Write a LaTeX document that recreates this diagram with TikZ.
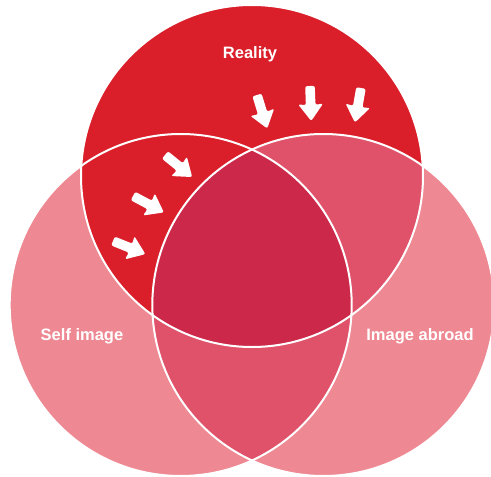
\documentclass[tikz,border=0pt]{standalone}
\usepackage{fontspec}
\setmainfont{Liberation Sans}
\definecolor{topred}{RGB}{218,30,42}
\definecolor{sidepink}{RGB}{238,136,146}
\definecolor{midred}{RGB}{224,82,106}
\definecolor{corered}{RGB}{204,40,74}
\tikzset{
  ring/.style={draw=white, line width=2pt},
  lbl/.style={text=white, font=\fontsize{16.5}{18}\selectfont\bfseries, inner sep=0pt},
  blockarrow/.pic={\fill[white, rounded corners=2pt]
    (0,-4.8) -- (19,-4.8) -- (18,-12.5) -- (35,0) -- (18,12.5) -- (19,4.8) -- (0,4.8) -- cycle;}
}
\begin{document}
\begin{tikzpicture}[x=1pt,y=-1pt]
\useasboundingbox (0,0) rectangle (491,477);
\fill[white] (0,0) rectangle (491,477);
\coordinate (T) at (252,176);
\coordinate (L) at (180.7,305);
\coordinate (R) at (323.3,305);
% side circles
\fill[sidepink] (L) circle[radius=171pt];
\fill[sidepink] (R) circle[radius=171pt];
\begin{scope}
  \clip (L) circle[radius=171pt];
  \fill[midred] (R) circle[radius=171pt];
\end{scope}
% top circle
\fill[topred] (T) circle[radius=171pt];
\begin{scope}
  \clip (R) circle[radius=171pt];
  \fill[midred] (T) circle[radius=171pt];
\end{scope}
\begin{scope}
  \clip (R) circle[radius=171pt];
  \clip (L) circle[radius=171pt];
  \fill[corered] (T) circle[radius=171pt];
\end{scope}
% outlines
\draw[ring] (T) circle[radius=171pt];
\draw[ring] (L) circle[radius=171pt];
\draw[ring] (R) circle[radius=171pt];
% arrows
\pic[rotate=-73] at (257,95) {blockarrow};
\pic[rotate=-88] at (310,86) {blockarrow};
\pic[rotate=-100] at (361,88) {blockarrow};
\pic[rotate=-39] at (165,155) {blockarrow};
\pic[rotate=-28] at (133,196) {blockarrow};
\pic[rotate=-22] at (113,241) {blockarrow};
% labels
\node[lbl] (reality) at (250,54) {Reality};
\node[lbl] (self) at (82,336) {Self image};
\node[lbl] (abroad) at (420,336) {Image abroad};
\end{tikzpicture}
\end{document}
